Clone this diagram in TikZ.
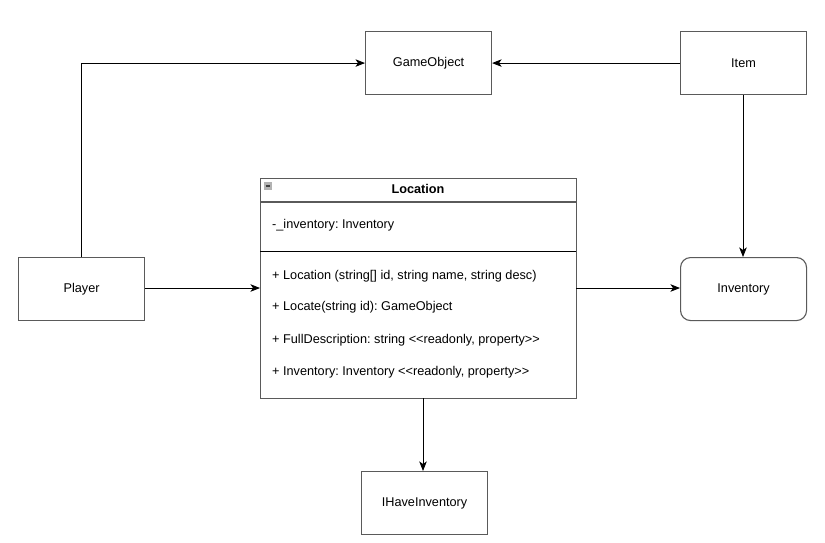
\documentclass[tikz,border=0pt]{standalone}
\usepackage{fontspec}
\setmainfont{Liberation Sans}[Ligatures=TeXOff]
\frenchspacing
\usetikzlibrary{arrows.meta}
\definecolor{boxgray}{HTML}{5A5A5A}
\begin{document}
\begin{tikzpicture}[x=1pt,y=-1pt,
  box/.style={draw=boxgray,line width=1.1pt,minimum width=126pt,minimum height=63pt,inner sep=0pt,font=\frenchspacing\fontsize{12.7pt}{15pt}\selectfont,anchor=north west},
  link/.style={draw=black,line width=0.9pt,-{Stealth[length=9.5pt,width=7.5pt,inset=2.5pt]}},
  member/.style={anchor=west,inner sep=0pt,font=\frenchspacing\fontsize{12.7pt}{15pt}\selectfont}]
\useasboundingbox (0,0) rectangle (825,542);
\fill[white] (0,0) rectangle (825,542);
\node[box] (go) at (365,31) {GameObject};
\node[box] (item) at (680,31) {Item};
\node[box] (player) at (18,257) {Player};
\node[box,rounded corners=10pt] (inv) at (680,257) {Inventory};
\node[box] (ihi) at (361,471) {IHaveInventory};
% Location class
\node[draw=boxgray,line width=1.1pt,anchor=north west,minimum width=316pt,minimum height=220pt,inner sep=0pt] (loc) at (260,178) {};
\draw[boxgray,line width=1.1pt] (260,202) -- (576,202);
\draw[black,line width=0.9pt] (260,251) -- (576,251);
\node[font=\bfseries\fontsize{12.7pt}{15pt}\selectfont,inner sep=0pt] (loctitle) at (418,189) {Location};
\fill[gray!60] (263.5,181.5) rectangle (272,190);
\draw[black!75,line width=1.4pt] (265.5,185.8) -- (270,185.8);
\node[member] (m0) at (272,225) {-\_inventory: Inventory};
\node[member] (m1) at (272,276) {+ Location (string[] id, string name, string desc)};
\node[member] (m2) at (272,307.5) {+ Locate(string id): GameObject};
\node[member] (m3) at (272,340) {+ FullDescription: string <<readonly, property>>};
\node[member] (m4) at (272,372) {+ Inventory: Inventory <<readonly, property>>};
\coordinate (locL) at (260,288);
\coordinate (locR) at (576,288);
\coordinate (locB) at (423,398);
% connectors
\draw[link] (player.north) |- (go.west);
\draw[link] (item.west) -- (go.east);
\draw[link] (item.south -| 743,0) -- (743,257);
\draw[link] (player.east |- locL) -- (locL);
\draw[link] (locR) -- (inv.west |- locR);
\draw[link] (locB) -- (ihi.north -| locB);
\end{tikzpicture}
\end{document}
